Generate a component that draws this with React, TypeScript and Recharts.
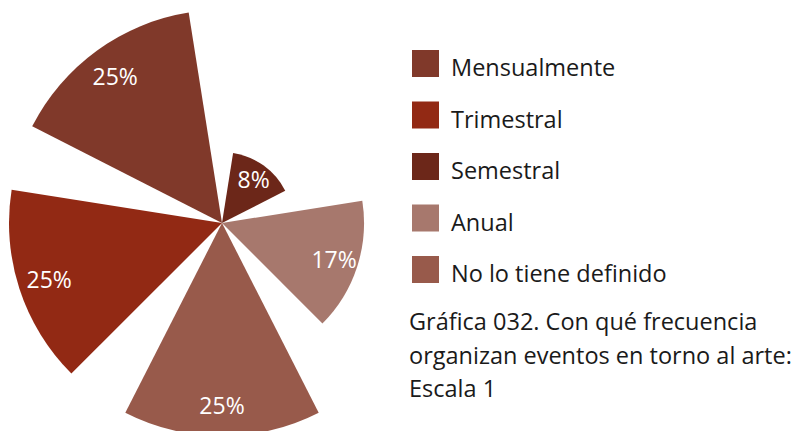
import { RadialBarChart, RadialBar, PolarAngleAxis, PolarRadiusAxis, Cell, LabelList, Legend } from 'recharts';

// order around the circle, clockwise from the top-left slice
const sliceNames = ['Mensualmente', 'Semestral', 'Anual', 'No lo tiene definido', 'Trimestral'];
const sliceValues = [25, 8.33, 16.67, 25, 25];
const sliceColors = ['#80392a', '#6c2719', '#a7786d', '#985a4b', '#922914'];

// legend order
const legendNames = ['Mensualmente', 'Trimestral', 'Semestral', 'Anual', 'No lo tiene definido'];
const legendColors = ['#80392a', '#922914', '#6c2719', '#a7786d', '#985a4b'];
const captionLines = ['Gráfica 032. Con qué frecuencia', 'organizan eventos en torno al arte:', 'Escala 1'];

const data = sliceNames.map((name, i) => ({ name, value: sliceValues[i] }));

const FONT = '"Open Sans", sans-serif';

const renderSliceLabel = (props: any) => {
  const { viewBox, value } = props;
  if (!viewBox) return null;
  const { cx, cy, outerRadius, startAngle, endAngle } = viewBox;
  const mid = ((startAngle + endAngle) / 2) * Math.PI / 180;
  const r = outerRadius * 0.9 - 10;
  const x = cx + r * Math.cos(mid);
  const y = cy - r * Math.sin(mid);
  return (
    <text x={x} y={y} fill="#fff" fontFamily={FONT} fontSize={23} textAnchor="middle" dominantBaseline="central">
      {Math.round(value)}%
    </text>
  );
};

const renderLegend = () => (
  <svg width={797} height={431} style={{ display: 'block' }}>
    {legendNames.map((n, i) => {
      const top = 50 + i * 51.5;
      return (
        <g key={n}>
          <rect x={412} y={top} width={27} height={27} fill={legendColors[i]} />
          <text x={451} y={top + 26} fontFamily={FONT} fontSize={23.5} fill="#1a1a1a">{n}</text>
        </g>
      );
    })}
    {captionLines.map((line, i) => (
      <text key={line} x={409} y={330 + i * 33.5} fontFamily={FONT} fontSize={23.5} fill="#1a1a1a">{line}</text>
    ))}
  </svg>
);

export default function App() {
  return (
    <div style={{ position: 'absolute', left: 0, top: 0, width: 797, height: 431, background: '#fff' }}>
      <RadialBarChart
        width={797}
        height={431}
        data={data}
        cx={222}
        cy={223}
        innerRadius={0}
        outerRadius={213}
        startAngle={90}
        endAngle={-270}
        layout="centric"
        barCategoryGap="12.5%"
        margin={{ top: 0, right: 0, bottom: 0, left: 0 }}
      >
        <PolarAngleAxis type="category" dataKey="name" tick={false} axisLine={false} tickLine={false} />
        <PolarRadiusAxis type="number" domain={[0, 25]} tick={false} axisLine={false} tickLine={false} />
        <RadialBar dataKey="value" isAnimationActive={false}>
          {data.map((d, i) => (
            <Cell key={d.name} fill={sliceColors[i]} />
          ))}
          <LabelList dataKey="value" content={renderSliceLabel} />
        </RadialBar>
        <Legend
          content={renderLegend}
          wrapperStyle={{ left: 0, top: 0, width: 797, height: 431, pointerEvents: 'none' }}
        />
      </RadialBarChart>
    </div>
  );
}
